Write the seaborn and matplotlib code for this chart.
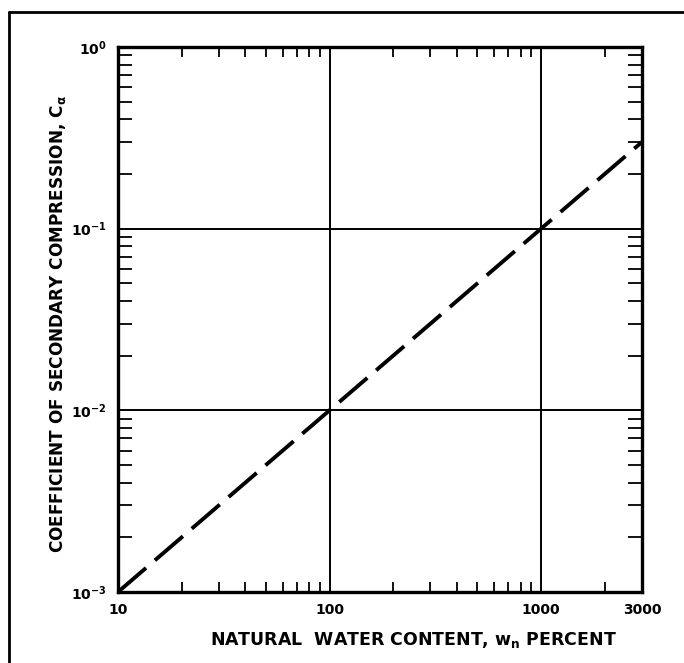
import matplotlib
matplotlib.use("Agg")
import matplotlib.pyplot as plt
import matplotlib.ticker as mticker
from matplotlib.lines import Line2D
import seaborn as sns
import pandas as pd

# Data
water_content = [10, 100, 1000, 3000]          # w_n, percent
c_alpha = [0.001, 0.01, 0.1, 0.3]              # C_alpha
x_tick_values = [10, 100, 1000, 3000]
x_tick_labels = ["10", "100", "1000", "3000"]
y_tick_values = [1e-3, 1e-2, 1e-1, 1e0]
y_tick_labels = [r"$10^{-3}$", r"$10^{-2}$", r"$10^{-1}$", r"$10^{0}$"]

sns.set_theme(style="white")
plt.rcParams['font.family'] = ['DejaVu Sans']
plt.rcParams['mathtext.fontset'] = 'dejavusans'
plt.rcParams['mathtext.default'] = 'bf'
plt.rcParams['text.color'] = 'black'
plt.rcParams['axes.labelcolor'] = 'black'
plt.rcParams['xtick.color'] = 'black'
plt.rcParams['ytick.color'] = 'black'

fig = plt.figure(figsize=(6.84, 6.63), dpi=100)
ax = fig.add_axes([118/684, 1-592/663, (642-118)/684, (592-47)/663])

df = pd.DataFrame({"w": water_content, "c": c_alpha})
sns.lineplot(data=df, x="w", y="c", ax=ax, color="black", lw=2.8,
             dashes=False, estimator=None, sort=False)
ax.lines[0].set_dashes((9.5, 3.0))
ax.lines[0].set_dash_capstyle("butt")

ax.set_xscale("log")
ax.set_yscale("log")
ax.set_xlim(10, 3000)
ax.set_ylim(1e-3, 1e0)

# grid lines at decades
for xv in [100, 1000]:
    ax.axvline(xv, color="black", lw=1.4, zorder=1)
for yv in [1e-2, 1e-1]:
    ax.axhline(yv, color="black", lw=1.4, zorder=1)

ax.set_xticks(x_tick_values)
ax.set_xticklabels(x_tick_labels)
ax.set_yticks(y_tick_values)
ax.set_yticklabels(y_tick_labels)
ax.xaxis.set_minor_locator(mticker.LogLocator(base=10, subs=range(2, 10), numticks=20))
ax.yaxis.set_minor_locator(mticker.LogLocator(base=10, subs=range(2, 10), numticks=20))
ax.xaxis.set_minor_formatter(mticker.NullFormatter())
ax.yaxis.set_minor_formatter(mticker.NullFormatter())

ax.tick_params(axis="both", which="major", length=0, pad=8,
               labelsize=10, labelcolor="black")
ax.tick_params(axis="x", which="minor", direction="in", length=7, width=1.3,
               top=True, bottom=True, color="black")
ax.tick_params(axis="y", which="minor", direction="in", length=10, width=1.3,
               left=True, right=True, color="black")
for lab in ax.get_xticklabels() + ax.get_yticklabels():
    lab.set_fontweight("bold")

for sp in ax.spines.values():
    sp.set_visible(True)
    sp.set_color("black")
    sp.set_linewidth(2.4)

ax.set_xlabel("")
ax.set_ylabel("")
ax.grid(False)

fig.text(413/684, 1-640/663, r"NATURAL  WATER CONTENT, w$_\mathregular{n}$ PERCENT",
         ha="center", va="center", fontsize=12.5, fontweight="bold", color="black")
fig.text(58/684, 1-324/663, r"COEFFICIENT OF SECONDARY COMPRESSION, C$_\alpha$",
         ha="center", va="center", rotation=90, fontsize=12.2, fontweight="bold",
         color="black")

# outer frame (partially visible)
fig.add_artist(Line2D([9/684, 1.0], [1-12/663, 1-12/663], color="black", lw=2.0,
                      transform=fig.transFigure))
fig.add_artist(Line2D([9/684, 9/684], [0.0, 1-12/663], color="black", lw=2.0,
                      transform=fig.transFigure))

fig.savefig("out.png", dpi=100, facecolor="white")
